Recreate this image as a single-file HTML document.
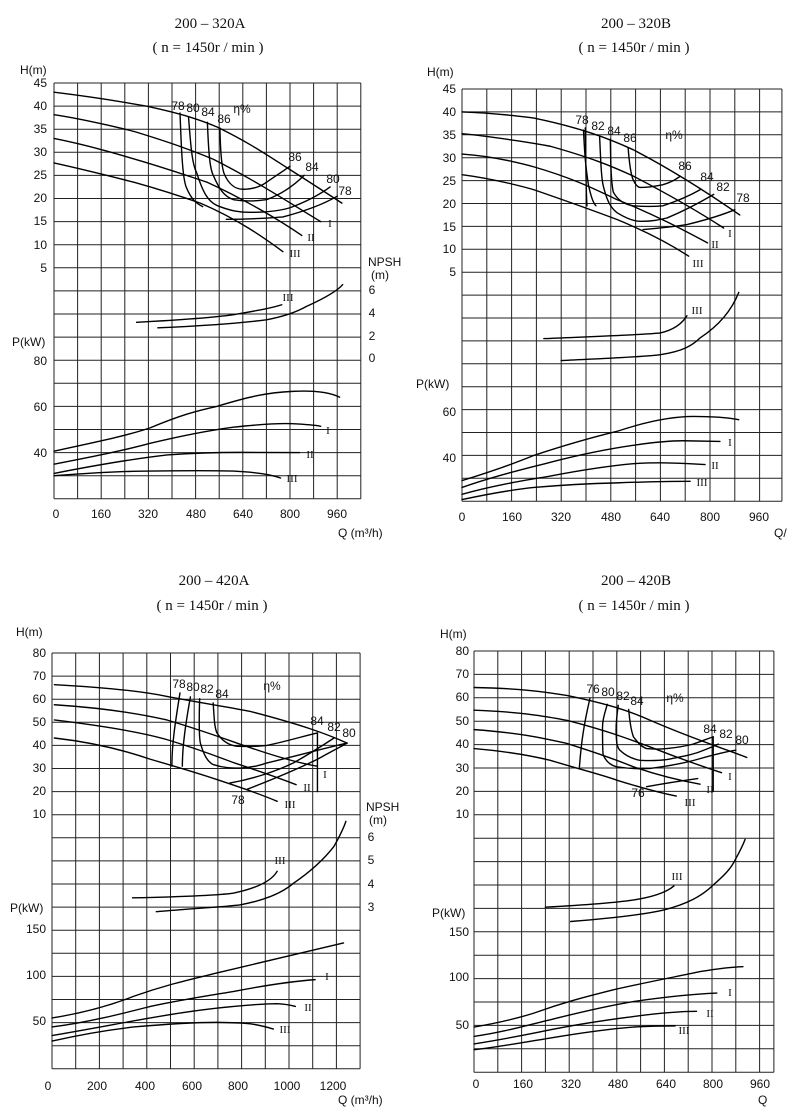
<!DOCTYPE html>
<html><head><meta charset="utf-8"><style>
html,body{margin:0;padding:0;background:#fff}
svg{display:block}
.t{font-family:"Liberation Serif",serif;font-size:15px;fill:#111}
.s{font-family:"Liberation Sans",sans-serif;font-size:12px;fill:#111}
.r{font-family:"Liberation Serif",serif;font-size:11px;fill:#111}
.g{fill:none;stroke:#222;stroke-width:1}
.c{fill:none;stroke:#000;stroke-width:1.4;stroke-linejoin:round;stroke-linecap:round}
</style></head><body>
<svg width="800" height="1117" viewBox="0 0 800 1117" xmlns="http://www.w3.org/2000/svg">
<rect width="800" height="1117" fill="#fff"/>

<!-- ============ PANEL 1 ============ -->
<text class="t" x="210" y="28" text-anchor="middle">200 – 320A</text>
<text class="t" x="208" y="52" text-anchor="middle">( n = 1450r / min )</text>
<g transform="translate(54,83) scale(23.6,23.1)">
<path class="g" vector-effect="non-scaling-stroke" d="M0 0V18M1 0V18M2 0V18M3 0V18M4 0V18M5 0V18M6 0V18M7 0V18M8 0V18M9 0V18M10 0V18M11 0V18M12 0V18M13 0V18M0 0H13M0 1H13M0 2H13M0 3H13M0 4H13M0 5H13M0 6H13M0 7H13M0 8H13M0 9H13M0 10H13M0 11H13M0 12H13M0 13H13M0 14H13M0 15H13M0 16H13M0 17H13M0 18H13"/>
<g class="c">
<path vector-effect="non-scaling-stroke" d="M0 0.4C2 0.65 3.9 1 3.9 1C5.5 1.35 6.2 1.6 6.9 1.9C8.3 2.6 9 3.1 10 3.75C11 4.4 11.6 4.8 12.2 5.2"/>
<path vector-effect="non-scaling-stroke" d="M0 1.37C1.5 1.6 3.4 2.1 3.4 2.1C5 2.6 5.8 2.9 6.75 3.3C8.5 4.2 10 5.2 11.3 6"/>
<path vector-effect="non-scaling-stroke" d="M0 2.4C1.5 2.7 3.1 3.2 3.1 3.2C4.8 3.7 5.6 4 6.5 4.3C8 5 9.5 5.9 10.5 6.6"/>
<path vector-effect="non-scaling-stroke" d="M0 3.46C1.5 3.8 3.4 4.3 3.4 4.3C4.8 4.7 5.5 4.95 6.2 5.2C7.8 5.9 8.9 6.7 9.7 7.3"/>
<path vector-effect="non-scaling-stroke" d="M5.34 1.3C5.4 3 5.45 4.1 5.6 4.5C5.8 5 6 5.2 6.3 5.35"/>
<path vector-effect="non-scaling-stroke" d="M5.7 1.47C5.8 2.8 5.85 3.5 6.05 3.9C6.3 4.7 6.5 5.1 6.9 5.3C7.5 5.55 7.9 5.6 8.3 5.6C9 5.6 9.5 5.55 10 5.4C10.8 5.1 11.3 4.8 11.7 4.5"/>
<path vector-effect="non-scaling-stroke" d="M6.5 1.7C6.55 3 6.6 3.7 6.75 4C7 4.6 7.2 4.9 7.6 5.05C8.2 5.15 8.6 5.1 9 5.05C9.7 4.8 10.2 4.4 10.6 4"/>
<path vector-effect="non-scaling-stroke" d="M7.03 1.95C7.05 3 7.1 3.6 7.2 3.9C7.4 4.4 7.7 4.6 8 4.6C8.5 4.6 8.8 4.45 9 4.3C9.5 3.95 9.8 3.75 10 3.6"/>
<path vector-effect="non-scaling-stroke" d="M7.3 5.9C8.5 5.9 9 5.85 9.7 5.8C10.8 5.5 11.5 5.2 12 4.9"/>
<path vector-effect="non-scaling-stroke" d="M3.5 10.36C5.5 10.25 6.8 10.15 7.6 10.03C8.6 9.85 9.2 9.75 9.65 9.6"/>
<path vector-effect="non-scaling-stroke" d="M4.4 10.6C6.5 10.5 7.9 10.4 9 10.25C9.8 10.1 10.3 9.9 10.7 9.67C11.5 9.3 12 9 12.23 8.73"/>
<path vector-effect="non-scaling-stroke" d="M0 15.94C1.5 15.6 3 15.3 4.07 14.93C5.3 14.4 6 14.2 6.9 14C8.2 13.6 9 13.4 10.1 13.35C11 13.3 11.7 13.4 12.1 13.6"/>
<path vector-effect="non-scaling-stroke" d="M0 16.5C1.5 16.2 3 15.9 4.07 15.6C5.5 15.25 6.5 15.05 7.6 14.9C8.7 14.78 9.5 14.72 10.1 14.75C10.7 14.78 11 14.8 11.3 14.86"/>
<path vector-effect="non-scaling-stroke" d="M0 16.9C2 16.5 3.5 16.25 4.8 16.1C6.2 16 7 15.99 7.9 15.99C9 16 9.8 16 10.4 16"/>
<path vector-effect="non-scaling-stroke" d="M0 17C2 16.85 3 16.8 4.07 16.8C5.5 16.78 6.8 16.78 7.6 16.8C8.6 16.85 9.2 16.95 9.6 17.1"/>
</g></g>
<g class="s">
<text x="20" y="74">H(m)</text>
<text x="47" y="87" text-anchor="end">45</text><text x="47" y="110" text-anchor="end">40</text><text x="47" y="133" text-anchor="end">35</text><text x="47" y="156" text-anchor="end">30</text><text x="47" y="179" text-anchor="end">25</text><text x="47" y="202" text-anchor="end">20</text><text x="47" y="225" text-anchor="end">15</text><text x="47" y="249" text-anchor="end">10</text><text x="47" y="272" text-anchor="end">5</text>
<text x="12" y="346">P(kW)</text>
<text x="47" y="365" text-anchor="end">80</text><text x="47" y="411" text-anchor="end">60</text><text x="47" y="457" text-anchor="end">40</text>
<text x="368" y="266">NPSH</text><text x="371" y="279">(m)</text>
<text x="372" y="294" text-anchor="middle">6</text><text x="372" y="317" text-anchor="middle">4</text><text x="372" y="340" text-anchor="middle">2</text><text x="372" y="362" text-anchor="middle">0</text>
<text x="178" y="110" text-anchor="middle">78</text><text x="193" y="112" text-anchor="middle">80</text><text x="208" y="116" text-anchor="middle">84</text><text x="224" y="123" text-anchor="middle">86</text><text x="242" y="113" text-anchor="middle">η%</text>
<text x="295" y="161" text-anchor="middle">86</text><text x="312" y="171" text-anchor="middle">84</text><text x="333" y="183" text-anchor="middle">80</text><text x="345" y="195" text-anchor="middle">78</text>
<text x="56" y="518" text-anchor="middle">0</text><text x="101" y="518" text-anchor="middle">160</text><text x="148" y="518" text-anchor="middle">320</text><text x="196" y="518" text-anchor="middle">480</text><text x="243" y="518" text-anchor="middle">640</text><text x="290" y="518" text-anchor="middle">800</text><text x="337" y="518" text-anchor="middle">960</text>
<text x="338" y="537">Q (m³/h)</text>
</g>
<g class="r">
<text x="330" y="227" text-anchor="middle">I</text><text x="311" y="241" text-anchor="middle">II</text><text x="295" y="257" text-anchor="middle">III</text>
<text x="288" y="301" text-anchor="middle">III</text>
<text x="328" y="434" text-anchor="middle">I</text><text x="310" y="458" text-anchor="middle">II</text><text x="292" y="482" text-anchor="middle">III</text>
</g>

<!-- ============ PANEL 2 ============ -->
<text class="t" x="636" y="28" text-anchor="middle">200 – 320B</text>
<text class="t" x="634" y="52" text-anchor="middle">( n = 1450r / min )</text>
<g transform="translate(462,89) scale(24.8,22.9)">
<path class="g" vector-effect="non-scaling-stroke" d="M0 0V18M1 0V18M2 0V18M3 0V18M4 0V18M5 0V18M6 0V18M7 0V18M8 0V18M9 0V18M10 0V18M11 0V18M12 0V18M12.9 0V18M0 0H12.9M0 1H12.9M0 2H12.9M0 3H12.9M0 4H12.9M0 5H12.9M0 6H12.9M0 7H12.9M0 8H12.9M0 9H12.9M0 10H12.9M0 11H12.9M0 12H12.9M0 13H12.9M0 14H12.9M0 15H12.9M0 16H12.9M0 17H12.9M0 18H12.9"/>
<g class="c">
<path vector-effect="non-scaling-stroke" d="M0 1C1.5 1.05 2.9 1.27 2.9 1.27C4.8 1.7 5.9 2.15 6.9 2.65C8.6 3.6 10 4.6 11.2 5.5"/>
<path vector-effect="non-scaling-stroke" d="M0 1.95C1.5 2.1 3.56 2.5 3.56 2.5C5.2 3 6 3.35 6.9 3.8C8.5 4.7 9.6 5.4 10.55 6.07"/>
<path vector-effect="non-scaling-stroke" d="M0 2.84C1.5 2.95 2.9 3.4 2.9 3.4C4.5 3.9 5.4 4.4 6.25 4.83C7.8 5.5 9 6.2 9.9 6.72"/>
<path vector-effect="non-scaling-stroke" d="M0 3.74C1.5 3.95 2.9 4.4 2.9 4.4C4.5 5 5.4 5.35 6.25 5.7C7.6 6.3 8.5 6.85 9.14 7.3"/>
<path vector-effect="non-scaling-stroke" d="M4.97 1.7C5 3.5 5 4.6 5.04 5.1"/>
<path vector-effect="non-scaling-stroke" d="M4.9 1.8C4.95 3 5 3.5 5.1 4.2C5.2 4.7 5.3 5 5.4 5.1"/>
<path vector-effect="non-scaling-stroke" d="M5.55 2.1C5.6 3.3 5.62 3.9 5.7 4.25C5.85 4.9 6 5.2 6.25 5.4C6.7 5.7 7 5.78 7.2 5.78C7.7 5.78 8 5.7 8.27 5.63C9 5.3 9.6 4.95 10.15 4.6"/>
<path vector-effect="non-scaling-stroke" d="M5.98 2.2C6 3.5 6.02 4.1 6.1 4.5C6.3 4.9 6.6 5.05 6.9 5.1C7.5 5.15 7.8 5.13 8.1 5.1C8.8 4.85 9.2 4.65 9.6 4.4"/>
<path vector-effect="non-scaling-stroke" d="M6.7 2.58C6.75 3.3 6.8 3.7 6.9 3.96C7 4.2 7.1 4.3 7.2 4.3C7.6 4.3 7.9 4.22 8.1 4.18C8.5 4.05 8.6 3.95 8.8 3.81"/>
<path vector-effect="non-scaling-stroke" d="M7.3 6.14C8.2 6.05 8.6 6 9.07 5.92C9.9 5.7 10.5 5.5 11 5.27"/>
<path vector-effect="non-scaling-stroke" d="M3.3 10.9C5.5 10.8 7 10.75 8 10.65C8.6 10.5 8.9 10.2 9.07 9.9"/>
<path vector-effect="non-scaling-stroke" d="M4 11.86C6 11.75 7.3 11.7 8 11.6C8.9 11.45 9.3 11.2 9.6 10.87C10.4 10.3 10.9 9.6 11.16 8.88"/>
<path vector-effect="non-scaling-stroke" d="M0 17.1C1.2 16.7 2 16.4 2.9 16C4.3 15.5 5.3 15.2 6.25 14.95C7.5 14.5 8.5 14.3 9.34 14.3C10.2 14.3 10.7 14.35 11.16 14.44"/>
<path vector-effect="non-scaling-stroke" d="M0 17.4C1.3 16.9 2.5 16.6 3.56 16.3C5 15.9 6 15.7 6.9 15.56C7.9 15.4 8.5 15.36 8.9 15.36C9.6 15.37 10 15.38 10.4 15.39"/>
<path vector-effect="non-scaling-stroke" d="M0 17.7C1.3 17.3 2.5 17.1 3.56 16.9C5 16.6 6 16.45 6.9 16.36C7.6 16.32 8 16.32 8.27 16.33C9 16.35 9.5 16.38 9.8 16.4"/>
<path vector-effect="non-scaling-stroke" d="M0 17.93C1 17.7 2 17.5 2.9 17.4C4.5 17.25 5.5 17.22 6.25 17.2C7.5 17.15 8.5 17.13 9.2 17.13"/>
</g></g>
<g class="s">
<text x="427" y="76">H(m)</text>
<text x="456" y="93" text-anchor="end">45</text><text x="456" y="116" text-anchor="end">40</text><text x="456" y="139" text-anchor="end">35</text><text x="456" y="162" text-anchor="end">30</text><text x="456" y="185" text-anchor="end">25</text><text x="456" y="208" text-anchor="end">20</text><text x="456" y="231" text-anchor="end">15</text><text x="456" y="253" text-anchor="end">10</text><text x="456" y="276" text-anchor="end">5</text>
<text x="416" y="388">P(kW)</text>
<text x="456" y="416" text-anchor="end">60</text><text x="456" y="462" text-anchor="end">40</text>
<text x="582" y="124" text-anchor="middle">78</text><text x="598" y="130" text-anchor="middle">82</text><text x="614" y="135" text-anchor="middle">84</text><text x="630" y="142" text-anchor="middle">86</text><text x="674" y="139" text-anchor="middle">η%</text>
<text x="685" y="170" text-anchor="middle">86</text><text x="707" y="181" text-anchor="middle">84</text><text x="723" y="191" text-anchor="middle">82</text><text x="743" y="202" text-anchor="middle">78</text>
<text x="462" y="521" text-anchor="middle">0</text><text x="512" y="521" text-anchor="middle">160</text><text x="561" y="521" text-anchor="middle">320</text><text x="611" y="521" text-anchor="middle">480</text><text x="660" y="521" text-anchor="middle">640</text><text x="710" y="521" text-anchor="middle">800</text><text x="759" y="521" text-anchor="middle">960</text>
<text x="774" y="537">Q/</text>
</g>
<g class="r">
<text x="730" y="237" text-anchor="middle">I</text><text x="715" y="248" text-anchor="middle">II</text><text x="698" y="267" text-anchor="middle">III</text>
<text x="697" y="314" text-anchor="middle">III</text>
<text x="730" y="446" text-anchor="middle">I</text><text x="715" y="469" text-anchor="middle">II</text><text x="702" y="486" text-anchor="middle">III</text>
</g>

<!-- ============ PANEL 3 ============ -->
<text class="t" x="214" y="585" text-anchor="middle">200 – 420A</text>
<text class="t" x="212" y="610" text-anchor="middle">( n = 1450r / min )</text>
<g transform="translate(52,653) scale(23.7,23.1)">
<path class="g" vector-effect="non-scaling-stroke" d="M0 0V18M1 0V18M2 0V18M3 0V18M4 0V18M5 0V18M6 0V18M7 0V18M8 0V18M9 0V18M10 0V18M11 0V18M12 0V18M13 0V18M0 0H13M0 1H13M0 2H13M0 3H13M0 4H13M0 5H13M0 6H13M0 7H13M0 8H13M0 9H13M0 10H13M0 11H13M0 12H13M0 13H13M0 14H13M0 15H13M0 16H13M0 17H13M0 18H13"/>
<g class="c">
<path vector-effect="non-scaling-stroke" d="M0.1 1.37C2.5 1.5 4 1.7 4.85 1.88C6.5 2.2 7.5 2.35 8.37 2.53C10.5 3.1 11.6 3.5 12.45 3.9"/>
<path vector-effect="non-scaling-stroke" d="M0.1 2.24C2.5 2.4 4 2.7 4.85 2.9C6.5 3.4 7.5 3.8 8.37 4.1C9.8 4.6 10.6 4.8 11.2 4.9"/>
<path vector-effect="non-scaling-stroke" d="M0.1 2.9C2.5 3.2 4 3.5 4.85 3.75C6.3 4.2 7 4.5 7.7 4.76C9 5.2 9.8 5.5 10.3 5.7"/>
<path vector-effect="non-scaling-stroke" d="M0.1 3.68C2 3.9 3.3 4.3 4.15 4.6C5.5 5 6.3 5.25 6.96 5.48C8.2 5.9 9 6.2 9.5 6.42"/>
<path vector-effect="non-scaling-stroke" d="M5.4 1.73C5.2 3 5.05 4 5.06 4.9"/>
<path vector-effect="non-scaling-stroke" d="M5.84 1.9C5.65 3 5.5 4 5.5 4.9"/>
<path vector-effect="non-scaling-stroke" d="M6.23 1.98C6.2 3 6.2 3.6 6.26 3.9C6.4 4.4 6.55 4.7 6.8 4.83C7.3 5 7.7 4.98 7.95 4.98C8.5 4.95 8.8 4.85 9.07 4.76C10.5 4.4 11.6 4.1 12.45 3.9"/>
<path vector-effect="non-scaling-stroke" d="M6.8 2.16C6.85 2.9 6.85 3.2 6.96 3.46C7.2 3.85 7.5 4 7.8 4.04C8.4 4.05 8.8 4.03 9.07 4C10 3.8 10.6 3.6 11.2 3.46"/>
<path vector-effect="non-scaling-stroke" d="M7.5 5.63C8.5 5.45 9.5 5.1 10.2 4.75C10.9 4.35 11.5 3.95 11.9 3.68"/>
<path vector-effect="non-scaling-stroke" d="M8.23 5.9C9.5 5.4 10.6 4.9 11.2 4.6C11.8 4.25 12.2 4.05 12.45 3.9"/>
<path vector-effect="non-scaling-stroke" d="M11.2 3.46V6"/>
<path vector-effect="non-scaling-stroke" d="M3.4 10.6C5.5 10.55 7 10.5 7.67 10.39C8.8 10.15 9.3 9.8 9.5 9.45"/>
<path vector-effect="non-scaling-stroke" d="M4.4 11.2C6 11.05 7.2 11 7.95 10.9C9 10.7 9.7 10.4 10.2 9.96C11 9.4 11.5 8.9 11.9 8.37C12.1 8 12.3 7.6 12.4 7.29"/>
<path vector-effect="non-scaling-stroke" d="M0 15.8C1.5 15.55 2.6 15.2 3.45 14.86C5 14.3 6 14.1 6.96 13.85C9 13.35 11 12.85 12.3 12.55"/>
<path vector-effect="non-scaling-stroke" d="M0 16.19C1.5 16 3 15.6 4.15 15.3C5.5 15 6.8 14.8 7.67 14.65C9.2 14.35 10.3 14.2 11.1 14.14"/>
<path vector-effect="non-scaling-stroke" d="M0 16.56C1.5 16.3 3 16 4.15 15.8C5.5 15.55 6.8 15.38 7.67 15.3C8.7 15.2 9.2 15.18 9.5 15.18C9.9 15.2 10.1 15.25 10.27 15.3"/>
<path vector-effect="non-scaling-stroke" d="M0 16.8C1.3 16.5 2.5 16.3 3.45 16.19C5 16.05 6.2 15.99 6.96 15.99C7.8 16 8.1 16.02 8.37 16.05C8.8 16.12 9.1 16.2 9.34 16.28"/>
</g></g>
<g class="s">
<text x="16" y="636">H(m)</text>
<text x="46" y="657" text-anchor="end">80</text><text x="46" y="680" text-anchor="end">70</text><text x="46" y="703" text-anchor="end">60</text><text x="46" y="726" text-anchor="end">50</text><text x="46" y="749" text-anchor="end">40</text><text x="46" y="772" text-anchor="end">30</text><text x="46" y="795" text-anchor="end">20</text><text x="46" y="818" text-anchor="end">10</text>
<text x="10" y="912">P(kW)</text>
<text x="46" y="933" text-anchor="end">150</text><text x="46" y="979" text-anchor="end">100</text><text x="46" y="1025" text-anchor="end">50</text>
<text x="366" y="811">NPSH</text><text x="369" y="824">(m)</text>
<text x="371" y="841" text-anchor="middle">6</text><text x="371" y="864" text-anchor="middle">5</text><text x="371" y="888" text-anchor="middle">4</text><text x="371" y="911" text-anchor="middle">3</text>
<text x="179" y="688" text-anchor="middle">78</text><text x="193" y="691" text-anchor="middle">80</text><text x="207" y="693" text-anchor="middle">82</text><text x="222" y="698" text-anchor="middle">84</text><text x="272" y="690" text-anchor="middle">η%</text>
<text x="317" y="725" text-anchor="middle">84</text><text x="334" y="731" text-anchor="middle">82</text><text x="349" y="737" text-anchor="middle">80</text>
<text x="238" y="804" text-anchor="middle">78</text>
<text x="48" y="1090" text-anchor="middle">0</text><text x="97" y="1090" text-anchor="middle">200</text><text x="145" y="1090" text-anchor="middle">400</text><text x="192" y="1090" text-anchor="middle">600</text><text x="238" y="1090" text-anchor="middle">800</text><text x="287" y="1090" text-anchor="middle">1000</text><text x="333" y="1090" text-anchor="middle">1200</text>
<text x="338" y="1104">Q (m³/h)</text>
</g>
<g class="r">
<text x="325" y="778" text-anchor="middle">I</text><text x="307" y="791" text-anchor="middle">II</text><text x="290" y="808" text-anchor="middle">III</text>
<text x="280" y="864" text-anchor="middle">III</text>
<text x="327" y="980" text-anchor="middle">I</text><text x="308" y="1011" text-anchor="middle">II</text><text x="285" y="1033" text-anchor="middle">III</text>
</g>

<!-- ============ PANEL 4 ============ -->
<text class="t" x="636" y="585" text-anchor="middle">200 – 420B</text>
<text class="t" x="634" y="610" text-anchor="middle">( n = 1450r / min )</text>
<g transform="translate(474,651) scale(23.8,23.4)">
<path class="g" vector-effect="non-scaling-stroke" d="M0 0V18M1 0V18M2 0V18M3 0V18M4 0V18M5 0V18M6 0V18M7 0V18M8 0V18M9 0V18M10 0V18M11 0V18M12 0V18M12.6 0V18M0 0H12.6M0 1H12.6M0 2H12.6M0 3H12.6M0 4H12.6M0 5H12.6M0 6H12.6M0 7H12.6M0 8H12.6M0 9H12.6M0 10H12.6M0 11H12.6M0 12H12.6M0 13H12.6M0 14H12.6M0 15H12.6M0 16H12.6M0 17H12.6M0 18H12.6"/>
<g class="c">
<path vector-effect="non-scaling-stroke" d="M0 1.56C2 1.6 3 1.75 3.9 1.9C5.8 2.3 6.6 2.6 7.4 2.96C9.3 3.8 10.6 4.2 11.46 4.55"/>
<path vector-effect="non-scaling-stroke" d="M0 2.53C2 2.6 3 2.8 3.9 2.96C5.6 3.4 6.6 3.8 7.4 4.1C8.9 4.7 9.8 5 10.4 5.2"/>
<path vector-effect="non-scaling-stroke" d="M0 3.36C2 3.5 3 3.75 3.9 3.95C5.3 4.4 6.1 4.7 6.7 4.95C8 5.4 9 5.6 9.5 5.69"/>
<path vector-effect="non-scaling-stroke" d="M0 4.17C1.5 4.3 2.5 4.5 3.2 4.67C4.6 5.1 5.4 5.3 6 5.52C7.2 5.9 8 6.1 8.5 6.2"/>
<path vector-effect="non-scaling-stroke" d="M4.87 2.03C4.6 3.2 4.5 4 4.43 4.95"/>
<path vector-effect="non-scaling-stroke" d="M5.6 2.28C5.45 2.8 5.4 3 5.4 3.24C5.4 3.9 5.4 4.3 5.43 4.45C5.6 4.8 5.8 4.9 6 4.95C6.6 5.05 7 5.04 7.4 5.02C8.3 4.9 9 4.75 9.5 4.6C10.2 4.4 10.6 4.3 11 4.24"/>
<path vector-effect="non-scaling-stroke" d="M6.06 2.32C5.98 2.9 5.97 3.1 5.97 3.38C5.98 3.9 6 4.1 6.13 4.24C6.4 4.5 6.7 4.62 6.97 4.67C7.5 4.7 7.8 4.68 8.1 4.64C8.8 4.5 9.2 4.42 9.5 4.3C9.9 4.150 10.1 4.05 10.27 3.98"/>
<path vector-effect="non-scaling-stroke" d="M6.5 2.5C6.55 3.1 6.6 3.4 6.7 3.67C6.9 3.95 7.05 4.1 7.25 4.17C7.6 4.2 7.9 4.19 8.1 4.17C8.6 4.12 8.9 4.06 9.2 3.98C9.6 3.85 9.8 3.75 10.05 3.67"/>
<path vector-effect="non-scaling-stroke" d="M7.25 5.8C8.2 5.62 8.9 5.52 9.4 5.45"/>
<path vector-effect="non-scaling-stroke" d="M10.05 3.67V6"/>
<path vector-effect="non-scaling-stroke" d="M3 10.95C4.8 10.85 6 10.75 6.7 10.64C7.6 10.5 8.1 10.3 8.4 10.04"/>
<path vector-effect="non-scaling-stroke" d="M4.06 11.56C6 11.4 7.2 11.25 7.96 11.07C9 10.8 9.6 10.45 10.05 10C10.5 9.6 10.8 9.3 10.97 8.93C11.15 8.6 11.3 8.3 11.39 8.05"/>
<path vector-effect="non-scaling-stroke" d="M0 16.07C1 15.9 1.8 15.7 2.5 15.48C3.8 15 4.8 14.75 5.85 14.48C7.5 14.1 8.6 13.9 9.5 13.7C10.4 13.55 10.9 13.5 11.3 13.49"/>
<path vector-effect="non-scaling-stroke" d="M0 16.47C1.2 16.3 2.2 16 3.2 15.76C4.6 15.4 5.7 15.15 6.7 14.98C8.3 14.75 9.4 14.65 10.2 14.62"/>
<path vector-effect="non-scaling-stroke" d="M0 16.79C1.2 16.6 2.2 16.4 3.2 16.19C4.6 15.9 5.7 15.75 6.7 15.62C8 15.45 8.8 15.4 9.35 15.4"/>
<path vector-effect="non-scaling-stroke" d="M0 17.04C1.2 16.9 2.2 16.7 3.2 16.54C4.6 16.3 5.7 16.15 6.7 16.07C7.5 16.02 8 16.02 8.45 16.02"/>
</g></g>
<g class="s">
<text x="440" y="638">H(m)</text>
<text x="469" y="655" text-anchor="end">80</text><text x="469" y="678" text-anchor="end">70</text><text x="469" y="701" text-anchor="end">60</text><text x="469" y="725" text-anchor="end">50</text><text x="469" y="748" text-anchor="end">40</text><text x="469" y="772" text-anchor="end">30</text><text x="469" y="795" text-anchor="end">20</text><text x="469" y="818" text-anchor="end">10</text>
<text x="432" y="917">P(kW)</text>
<text x="469" y="936" text-anchor="end">150</text><text x="469" y="981" text-anchor="end">100</text><text x="469" y="1029" text-anchor="end">50</text>
<text x="593" y="693" text-anchor="middle">76</text><text x="608" y="696" text-anchor="middle">80</text><text x="623" y="700" text-anchor="middle">82</text><text x="637" y="705" text-anchor="middle">84</text><text x="675" y="702" text-anchor="middle">η%</text>
<text x="710" y="733" text-anchor="middle">84</text><text x="726" y="738" text-anchor="middle">82</text><text x="742" y="744" text-anchor="middle">80</text>
<text x="638" y="797" text-anchor="middle">76</text>
<text x="476" y="1088" text-anchor="middle">0</text><text x="523" y="1088" text-anchor="middle">160</text><text x="571" y="1088" text-anchor="middle">320</text><text x="618" y="1088" text-anchor="middle">480</text><text x="666" y="1088" text-anchor="middle">640</text><text x="713" y="1088" text-anchor="middle">800</text><text x="760" y="1088" text-anchor="middle">960</text>
<text x="758" y="1104">Q</text>
</g>
<g class="r">
<text x="730" y="780" text-anchor="middle">I</text><text x="710" y="793" text-anchor="middle">II</text><text x="690" y="806" text-anchor="middle">III</text>
<text x="677" y="880" text-anchor="middle">III</text>
<text x="730" y="996" text-anchor="middle">I</text><text x="710" y="1017" text-anchor="middle">II</text><text x="684" y="1034" text-anchor="middle">III</text>
</g>
</svg>
</body></html>
